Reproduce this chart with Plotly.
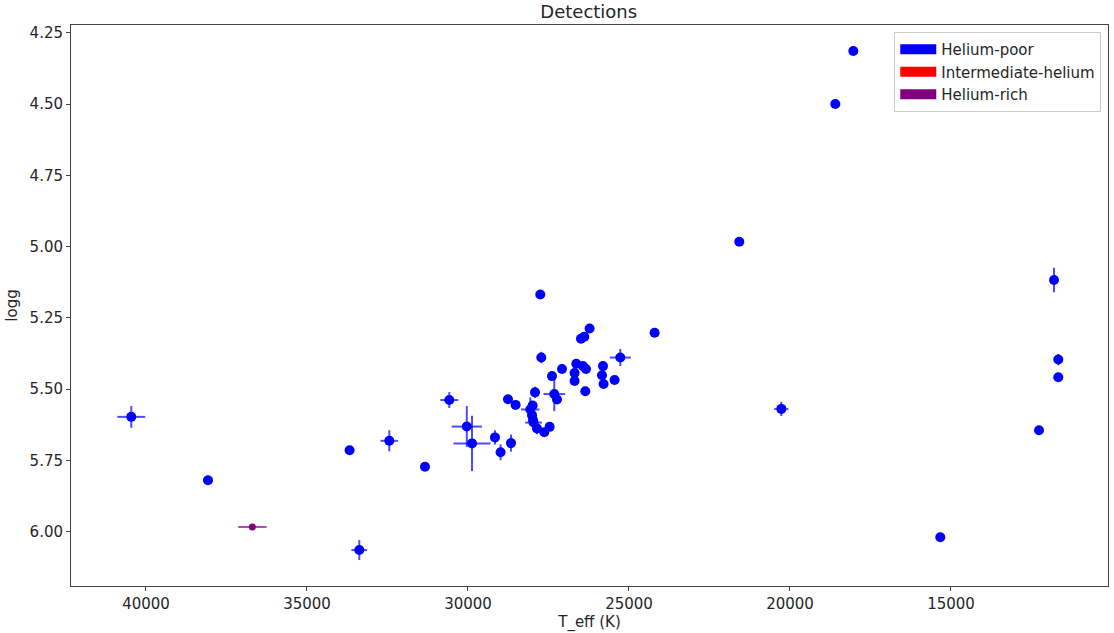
import plotly.graph_objects as go

# Helium-poor detections
poor_teff = [18034, 18593, 21575, 11801, 11668, 11668, 12267, 15332, 20270, 24205,
             40457, 38075, 33376, 33677, 32444, 31335, 30581, 30037, 29876,
             27755, 26224, 26388, 26491, 27724, 25270, 27081, 26637, 26429, 26335,
             25807, 26690, 25839, 27391, 25447, 26690, 25789, 26357, 27919, 27320,
             27236, 28758, 28522, 27994, 28065, 28012, 27981, 27963, 27857, 27630,
             27466, 29162, 28665, 28988]
poor_logg = [4.314, 4.500, 4.983, 5.117, 5.396, 5.458, 5.644, 6.019, 5.569, 5.302,
             5.597, 5.819, 6.064, 5.714, 5.681, 5.772, 5.538, 5.631, 5.690,
             5.168, 5.287, 5.316, 5.323, 5.389, 5.389, 5.429, 5.411, 5.419, 5.429,
             5.419, 5.443, 5.451, 5.454, 5.468, 5.471, 5.482, 5.507, 5.511, 5.517,
             5.536, 5.535, 5.555, 5.557, 5.571, 5.591, 5.608, 5.617, 5.638, 5.651,
             5.632, 5.669, 5.689, 5.721]
poor_teff_err = [0, 0, 0, 0, 0, 0, 0, 0, 222, 0,
                 435, 100, 245, 0, 275, 0, 280, 470, 575,
                 0, 0, 0, 0, 0, 326, 0, 0, 0, 0,
                 0, 0, 0, 0, 0, 0, 0, 0, 0, 337,
                 0, 0, 0, 0, 285, 0, 0, 260, 0, 0,
                 0, 90, 0, 0]
poor_logg_err = [0, 0, 0, 0.043, 0.02, 0, 0, 0, 0.025, 0.015,
                 0.038, 0.012, 0.035, 0, 0.037, 0, 0.028, 0.072, 0.097,
                 0, 0, 0, 0, 0.02, 0.03, 0, 0, 0, 0,
                 0.015, 0, 0.012, 0.015, 0, 0, 0.015, 0, 0.02, 0.06,
                 0, 0, 0, 0, 0.042, 0, 0, 0, 0.02, 0,
                 0, 0.025, 0.03, 0.028]

# Helium-rich detections
rich_teff = [36696]
rich_logg = [5.983]
rich_teff_err = [440]

legend_names = ["Helium-poor", "Intermediate-helium", "Helium-rich"]
legend_colors = ["blue", "red", "purple"]

x_ticks = [40000, 35000, 30000, 25000, 20000, 15000]
y_ticks = [4.25, 4.50, 4.75, 5.00, 5.25, 5.50, 5.75, 6.00]

font_family = "DejaVu Sans"
text_color = "#262626"

fig = go.Figure()

fig.add_trace(go.Scatter(
    x=poor_teff, y=poor_logg, mode="markers",
    marker=dict(color="blue", size=10, line=dict(width=0)),
    error_x=dict(type="data", array=poor_teff_err, visible=True, width=0,
                 thickness=2, color="rgba(0,0,255,0.7)"),
    error_y=dict(type="data", array=poor_logg_err, visible=True, width=0,
                 thickness=2, color="rgba(0,0,255,0.7)"),
    showlegend=False, hoverinfo="x+y"))

fig.add_trace(go.Scatter(
    x=rich_teff, y=rich_logg, mode="markers",
    marker=dict(color="purple", size=7, line=dict(width=0)),
    error_x=dict(type="data", array=rich_teff_err, visible=True, width=0,
                 thickness=2, color="rgba(128,0,128,0.7)"),
    showlegend=False, hoverinfo="x+y"))

for name, col in zip(legend_names, legend_colors):
    fig.add_trace(go.Scatter(
        x=[None], y=[None], mode="lines", name=name,
        line=dict(color=col, width=12), showlegend=True))

axis_common = dict(
    showline=True, linecolor="#444", linewidth=1, mirror=True,
    ticks="outside", ticklen=4, tickwidth=1, tickcolor="#444",
    showgrid=False, zeroline=False, automargin=False,
    tickfont=dict(family=font_family, size=15, color=text_color),
)

fig.update_layout(
    width=1114, height=633,
    margin=dict(l=71, r=6, t=25, b=47, autoexpand=False),
    paper_bgcolor="white", plot_bgcolor="white",
    font=dict(family=font_family, color=text_color),
    title=dict(text="Detections", x=0.5285, xanchor="center",
               y=1 - 12 / 633, yanchor="middle",
               font=dict(family=font_family, size=18, color=text_color)),
    xaxis=dict(range=[42329, 10124], tickvals=x_ticks,
               ticktext=[str(v) for v in x_ticks],
               title=dict(text="T_eff (K)", standoff=2,
                          font=dict(family=font_family, size=15, color=text_color)),
               **axis_common),
    yaxis=dict(range=[6.190, 4.223], tickvals=y_ticks,
               ticktext=[f"{v:.2f}" for v in y_ticks],
               title=dict(text="logg", standoff=8,
                          font=dict(family=font_family, size=15, color=text_color)),
               **axis_common),
    legend=dict(x=0.9935, y=0.9875, xanchor="right", yanchor="top",
                bgcolor="rgba(255,255,255,0.9)", bordercolor="#cccccc",
                borderwidth=1,
                font=dict(family=font_family, size=15, color=text_color),
                itemwidth=36, tracegroupgap=0),
)

fig.write_html(
    "out.html",
    config={"displayModeBar": False},
    post_script="document.body.style.margin='0';document.body.style.padding='0';",
)
